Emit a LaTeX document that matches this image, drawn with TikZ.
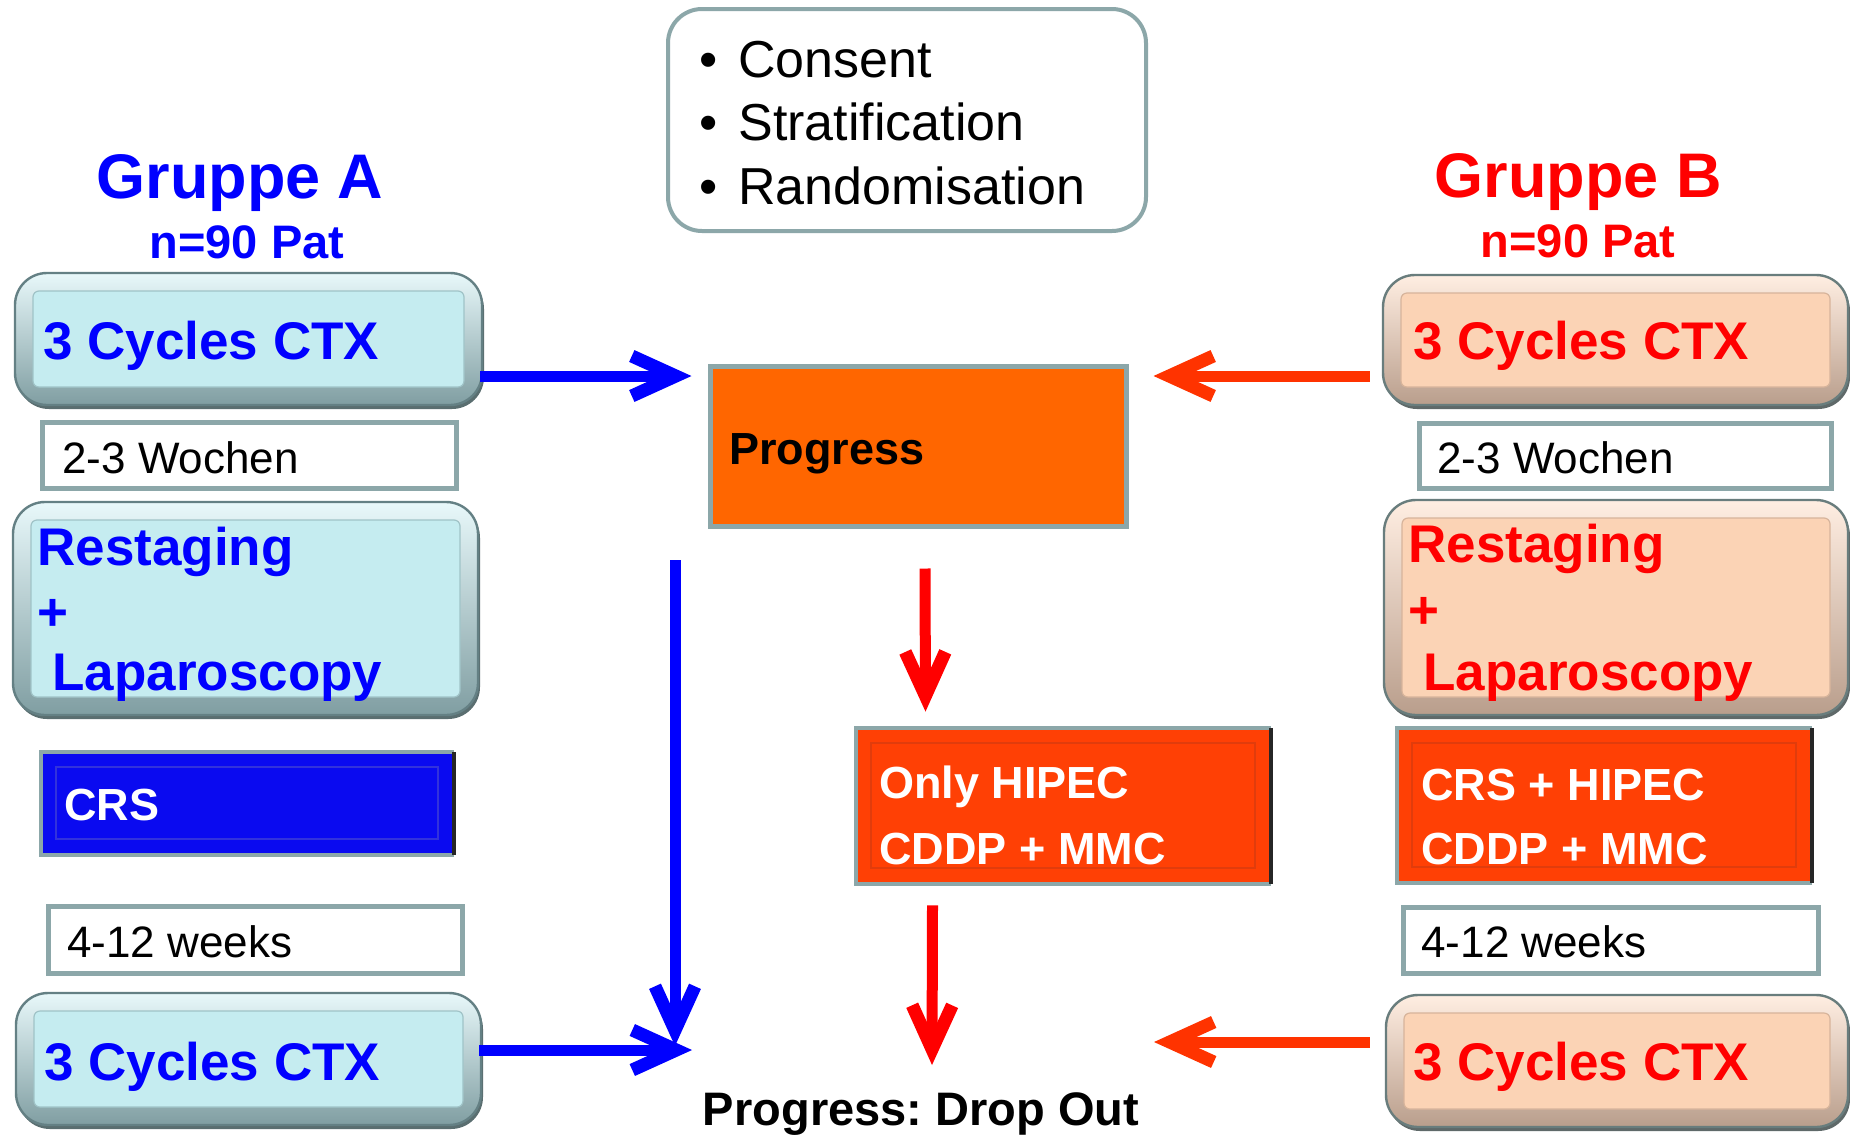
\documentclass[tikz,border=0pt]{standalone}
\usepackage{fontspec}
\setmainfont{Liberation Sans}
\usetikzlibrary{arrows.meta,fit,calc}
\frenchspacing

\definecolor{ablue}{RGB}{0,0,255}
\definecolor{bred}{RGB}{255,0,0}
\definecolor{arrblue}{RGB}{0,0,255}
\definecolor{arrorange}{RGB}{255,51,0}
\definecolor{arrred}{RGB}{255,0,0}
\definecolor{progc}{RGB}{255,102,0}
\definecolor{Hfill}{RGB}{255,64,5}
\definecolor{Hin}{RGB}{225,60,12}
\definecolor{Cfill}{RGB}{10,10,240}
\definecolor{Cin}{RGB}{50,50,220}
\definecolor{edgegray}{RGB}{140,167,169}
\definecolor{Afill}{RGB}{197,236,240}
\definecolor{Atop}{RGB}{232,248,250}
\definecolor{Abot}{RGB}{128,158,162}
\definecolor{Aedge}{RGB}{100,128,132}
\definecolor{Ain}{RGB}{160,195,199}
\definecolor{Ashd}{RGB}{90,110,112}
\definecolor{Bfill}{RGB}{251,211,181}
\definecolor{Btop}{RGB}{255,238,226}
\definecolor{Bbot}{RGB}{185,158,140}
\definecolor{Bedge}{RGB}{105,125,125}
\definecolor{Bin}{RGB}{215,180,155}
\definecolor{Bshd}{RGB}{95,105,105}

% soft rounded bevel box: name, x1, y1, x2, y2, scheme
\newcommand\softbox[6]{%
  \fill[#6shd, rounded corners=16pt] (#2+2,#3+4) rectangle (#4+2,#5+4);
  \shade[rounded corners=16pt, top color=#6top, bottom color=#6bot] (#2,#3) rectangle (#4,#5);
  \draw[#6edge, line width=1.2pt, rounded corners=16pt] (#2,#3) rectangle (#4,#5);
  \filldraw[fill=#6fill, draw=#6in, line width=0.6pt, rounded corners=3pt] (#2+18,#3+18) rectangle (#4-18,#5-18);
  \node[fit={(#2,#3)(#4,#5)}, inner sep=0pt] (#1) {};
}
% flat bevel box: name, x1, y1, x2, y2, scheme
\newcommand\flatbox[6]{%
  \fill[#6fill] (#2,#3) rectangle (#4,#5);
  \draw[#6in, line width=0.8pt] (#2+15,#3+15) rectangle (#4-16,#5-16);
  \draw[edgegray, line width=2pt] (#4,#5) -- (#2,#5) -- (#2,#3) -- (#4,#3);
  \draw[black!85, line width=2pt] (#4,#3) -- (#4,#5);
  \node[fit={(#2,#3)(#4,#5)}, inner sep=0pt] (#1) {};
}
% week box: name, x1, y1, x2, y2
\newcommand\weekbox[5]{%
  \node[draw=edgegray, fill=white, line width=2.5pt, inner sep=0pt, fit={(#2+2,#3+2)(#4-2,#5-2)}] (#1) {};
}

\begin{document}
\begin{tikzpicture}[x=0.5pt,y=-0.5pt,
  tA/.style={anchor=base west, inner sep=0pt, text=ablue, font=\fontsize{26.5}{30}\selectfont\bfseries},
  tB/.style={anchor=base west, inner sep=0pt, text=bred, font=\fontsize{26.5}{30}\selectfont\bfseries},
  tW/.style={anchor=base west, inner sep=0pt, font=\fontsize{22}{26}\selectfont},
  tWh/.style={anchor=base west, inner sep=0pt, text=white, font=\fontsize{22.5}{26}\selectfont\bfseries},
  tK/.style={anchor=base west, inner sep=0pt, text=black, font=\fontsize{22.5}{26}\selectfont\bfseries},
  tI/.style={anchor=base west, inner sep=0pt, text=black, font=\fontsize{26}{30}\selectfont},
  grp/.style={anchor=base, inner sep=0pt, font=\fontsize{31.5}{36}\selectfont\bfseries},
  npat/.style={anchor=base, inner sep=0pt, font=\fontsize{23.5}{28}\selectfont\bfseries},
  barb/.style={-{Straight Barb[length=22pt,width=20pt,line width=6.5pt]}, line width=5.5pt},
  bluearr/.style={barb, draw=arrblue},
  orarr/.style={barb, draw=arrorange},
  redarr/.style={barb, draw=arrred},
]
\useasboundingbox (0,0) rectangle (1850,1135);
\fill[white] (0,0) rectangle (1850,1135);

% titles
\node[grp, text=ablue] (gA) at (240,198) {Gruppe A};
\node[npat, text=ablue] (nA) at (247,258) {n=90 Pat};
\node[grp, text=bred] (gB) at (1578,197) {Gruppe B};
\node[npat, text=bred] (nB) at (1578,257) {n=90 Pat};

% info box
\node[draw=edgegray, line width=2pt, rounded corners=17pt, inner sep=0pt, fit={(668,9)(1146,231)}] (info) {};
\node[tI] (i1) at (699,77) {\makebox[19.5pt][l]{•}Consent};
\node[tI] (i2) at (699,140) {\makebox[19.5pt][l]{•}Stratification};
\node[tI] (i3) at (699,204) {\makebox[19.5pt][l]{•}Randomisation};

% group A column
\softbox{A1}{15}{273}{482}{405}{A}
\node[tA] (tA1) at (43,359) {3 Cycles CTX};
\weekbox{wA1}{40}{420}{458}{490}
\node[tW] (twA1) at (62,473) {2-3 Wochen};
\softbox{A2}{13}{502}{478}{715}{A}
\node[tA] (tA2a) at (37,565) {Restaging};
\node[tA] (tA2b) at (37,630) {+};
\node[tA] (tA2c) at (52,690) {Laparoscopy};
\flatbox{crs}{41}{752}{454}{855}{C}
\node[tWh] (tcrs) at (64,820) {CRS};
\weekbox{wA2}{46}{904}{464}{975}
\node[tW] (twA2) at (67,957) {4-12 weeks};
\softbox{A3}{16}{993}{481}{1125}{A}
\node[tA] (tA3) at (44,1080) {3 Cycles CTX};

% centre
\node[draw=edgegray, fill=progc, line width=2.5pt, inner sep=0pt, fit={(710,366)(1126,526)}] (prog) {};
\node[tK] (tprog) at (729,464) {Progress};
\flatbox{hipec}{856}{728}{1271}{884}{H}
\node[tWh] (th1) at (879,798) {Only HIPEC};
\node[tWh] (th2) at (879,864) {CDDP + MMC};
\node[anchor=base, inner sep=0pt, font=\fontsize{23.5}{28}\selectfont\bfseries] (drop) at (921,1125) {Progress: Drop Out};

% group B column
\softbox{B1}{1383}{275}{1848}{405}{B}
\node[tB] (tB1) at (1413,359) {3 Cycles CTX};
\weekbox{wB1}{1417}{421}{1833}{490}
\node[tW] (twB1) at (1437,473) {2-3 Wochen};
\softbox{B2}{1384}{500}{1848}{715}{B}
\node[tB] (tB2a) at (1408,562) {Restaging};
\node[tB] (tB2b) at (1408,628) {+};
\node[tB] (tB2c) at (1423,690) {Laparoscopy};
\flatbox{hipecB}{1397}{728}{1812}{883}{H}
\node[tWh] (thB1) at (1421,800) {CRS + HIPEC};
\node[tWh] (thB2) at (1421,864) {CDDP + MMC};
\weekbox{wB2}{1401}{905}{1820}{975}
\node[tW] (twB2) at (1421,957) {4-12 weeks};
\softbox{B3}{1386}{995}{1848}{1127}{B}
\node[tB] (tB3) at (1413,1080) {3 Cycles CTX};

% free ends
\coordinate (bvtop) at (675,560);
\coordinate (bvtip) at (675,1046);
\coordinate (bhtip) at (692,1050);
\coordinate (dropin) at (932,1065);
\coordinate (obtip) at (1154,1042);

% connectors
\draw[bluearr] ($(A1.east)+(-2,37)$) -- ($(prog.west)+(-16,-70)$);
\draw[orarr] ($(B1.west)+(-13,36)$) -- ($(prog.east)+(25,-70)$);
\draw[redarr] ($(prog.south)+(7,40)$) -- ($(hipec.north)+(-138,-16)$);
\draw[redarr] ($(hipec.south)+(-131,21)$) -- (dropin);
\draw[bluearr] (bvtop) -- (bvtip);
\draw[bluearr] ($(A3.east)+(-2,-9)$) -- (bhtip);
\draw[orarr] ($(B3.west)+(-16,-19)$) -- (obtip);
\end{tikzpicture}
\end{document}
